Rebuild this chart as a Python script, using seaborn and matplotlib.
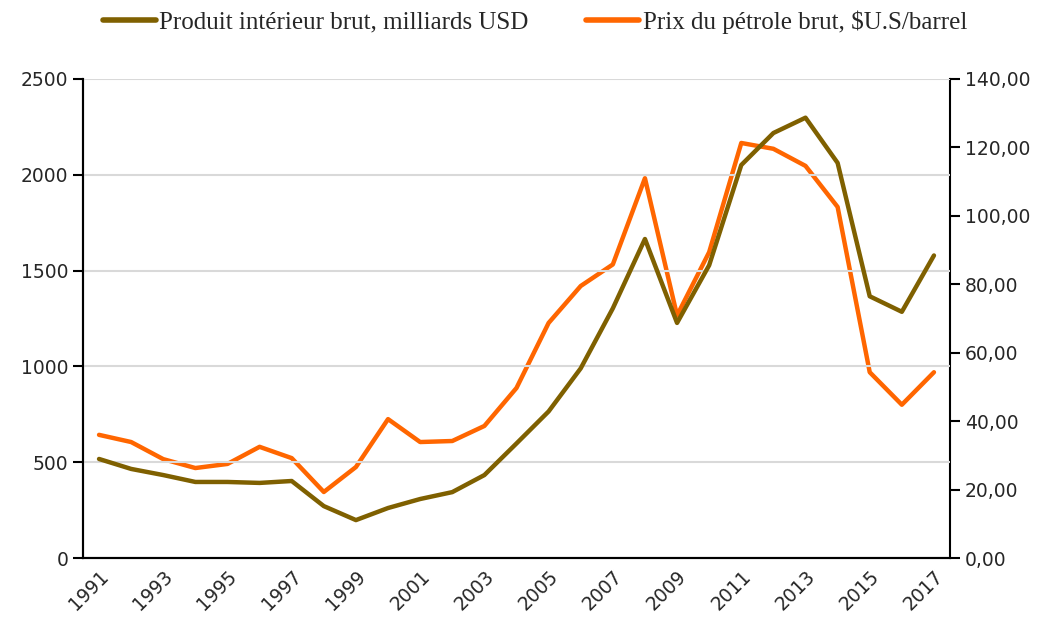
import numpy as np
import pandas as pd
import seaborn as sns
import matplotlib.pyplot as plt
from matplotlib.lines import Line2D
from matplotlib.ticker import FixedLocator, FuncFormatter

# données
years = list(range(1991, 2018))
pib = [517, 465, 433, 397, 397, 392, 402, 271, 198, 261, 308, 344, 433, 598,
       765, 990, 1303, 1665, 1227, 1528, 2051, 2218, 2298, 2062, 1366, 1285, 1579]
petrole = [36.0, 33.9, 28.9, 26.3, 27.5, 32.5, 29.2, 19.3, 26.6, 40.6, 33.9, 34.2,
           38.6, 49.7, 68.7, 79.5, 85.8, 111.0, 70.9, 89.4, 121.3, 119.6, 114.6,
           102.6, 54.3, 44.8, 54.3]
label_pib = "Produit intérieur brut, milliards USD"
label_petrole = "Prix du pétrole brut, $U.S/barrel"

df = pd.DataFrame({"idx": np.arange(len(years)), "pib": pib, "petrole": petrole})

c_pib = "#7F6000"
c_pet = "#FF6600"

sns.set_style("white")
plt.rcParams["font.family"] = ["DejaVu Sans"]

fig = plt.figure(figsize=(10.45, 6.21), dpi=100)
ax = fig.add_axes([0.0794, 0.1014, 0.8297, 0.7714])
ax2 = ax.twinx()

sns.lineplot(data=df, x="idx", y="pib", ax=ax, color=c_pib, lw=3.2, legend=False)
sns.lineplot(data=df, x="idx", y="petrole", ax=ax2, color=c_pet, lw=3.2, legend=False)
ax.set_zorder(ax2.get_zorder() + 1)
ax.patch.set_visible(False)

ax.set_xlim(-0.5, len(years) - 0.5)
ax.set_ylim(0, 2500)
ax2.set_ylim(0, 140)
ax.set_yticks(range(0, 2501, 500))
ax2.set_yticks(range(0, 141, 20))
ax2.yaxis.set_major_formatter(FuncFormatter(lambda v, p: f"{v:.2f}".replace(".", ",")))

ax.yaxis.grid(True, color="#D9D9D9", lw=1.5)
ax.set_axisbelow(True)

# axe x : catégories, graduations entre les années
ax.xaxis.set_major_locator(FixedLocator(np.arange(0, len(years), 2)))
ax.set_xticklabels([str(y) for y in years[::2]], rotation=45, ha="right",
                   rotation_mode="anchor")
ax.xaxis.set_minor_locator(FixedLocator(np.arange(-0.5, len(years), 1)))
ax.tick_params(axis="x", which="major", length=0, pad=6, labelsize=13.5)
ax.tick_params(axis="x", which="minor", length=7, width=1.5, color="black", direction="out")
ax.tick_params(axis="y", length=7, width=1.5, color="black", labelsize=13.5, left=True)
ax2.tick_params(axis="y", length=7, width=1.5, color="black", labelsize=13.5, right=True)

for a in (ax, ax2):
    a.set_xlabel("")
    a.set_ylabel("")
    a.spines["top"].set_visible(False)
    for s in ("left", "right", "bottom"):
        a.spines[s].set_color("black")
        a.spines[s].set_linewidth(1.5)
ax.spines["right"].set_visible(False)

handles = [Line2D([], [], color=c_pib, lw=4), Line2D([], [], color=c_pet, lw=4)]
fig.legend(handles, [label_pib, label_petrole], loc="upper center",
           bbox_to_anchor=(0.512, 1.02), ncol=2, frameon=False, handlelength=2.1,
           handletextpad=0.15, columnspacing=2.3,
           prop={"family": "Liberation Serif", "size": 18})

fig.savefig("out.png", dpi=100)
